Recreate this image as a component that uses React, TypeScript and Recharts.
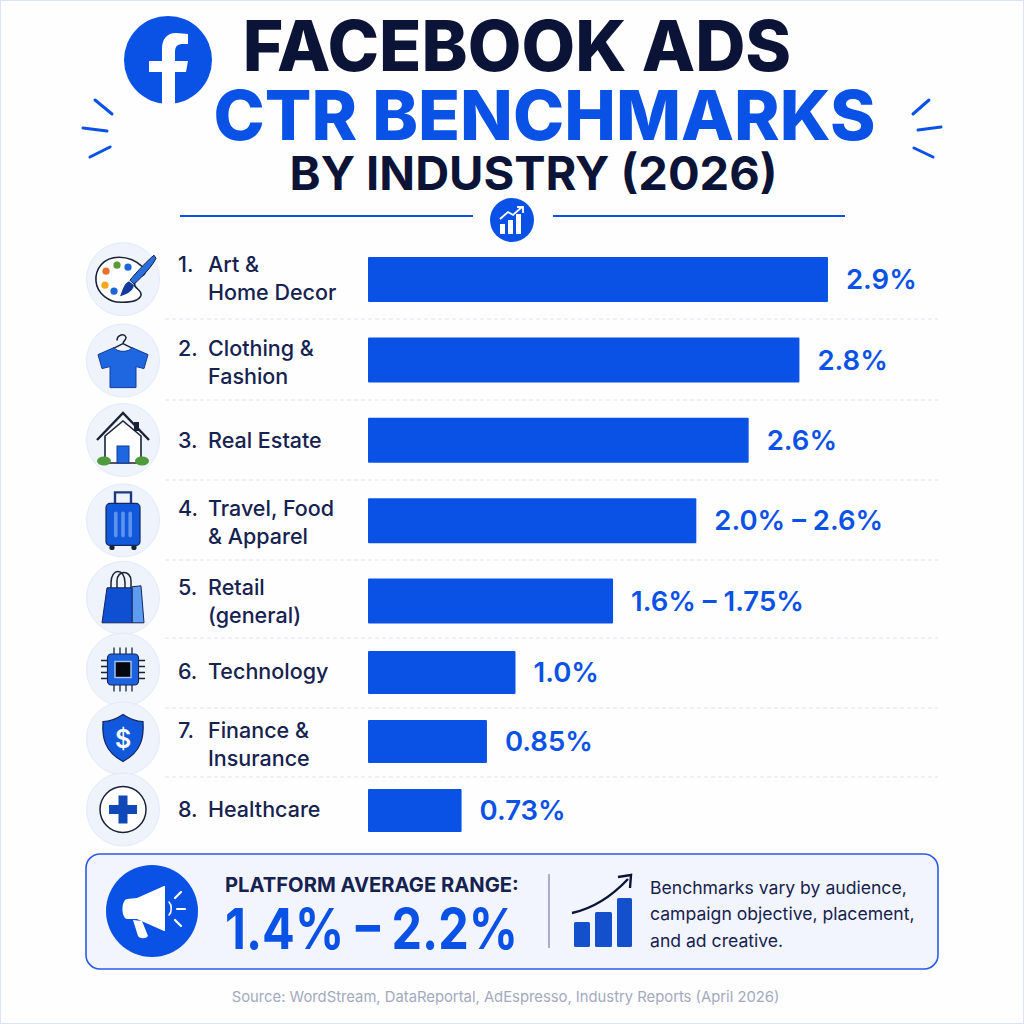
import { BarChart, Bar, XAxis, YAxis, LabelList } from 'recharts';

// Rows of the list. The picture has a tighter spacing from row 6 on, so they are two charts.
const categories = [
  ['Art &', 'Home Decor'],
  ['Clothing &', 'Fashion'],
  ['Real Estate'],
  ['Travel, Food', '& Apparel'],
  ['Retail', '(general)'],
  ['Technology'],
  ['Finance &', 'Insurance'],
  ['Healthcare'],
];
// bar lengths as drawn (they do not follow the printed labels exactly)
const barValues = [2.9, 2.72, 2.4, 2.07, 1.545, 0.93, 0.75, 0.59];
const valueLabels = ['2.9%', '2.8%', '2.6%', '2.0% – 2.6%', '1.6% – 1.75%', '1.0%', '0.85%', '0.73%'];

const tableData = categories.map((lines, i) => ({
  rank: i + 1,
  name: lines.join(' '),
  value: barValues[i],
  label: valueLabels[i],
}));

const BLUE = '#0a52e6';
const NAVY = '#0b1437';
const INK = '#16224f';
const FONT = 'Inter, sans-serif';

const IconPalette = () => (
  <g>
    <path d="M-4,-22 C-20,-22 -28,-10 -27,2 C-26,14 -14,24 0,23 C8,23 16,22 18,16 C19,12 14,10 12,7 C10,2 14,-2 18,-3 C22,-4 24,-8 20,-12 C14,-18 5,-22 -4,-22 Z" fill="#fff" stroke="#1a2238" strokeWidth="1.6" />
    <circle cx="-17" cy="-8" r="3.6" fill="#e8702a" />
    <circle cx="-6" cy="-14" r="3.6" fill="#5c9a35" />
    <circle cx="5" cy="-12" r="3.6" fill="#1c66dc" />
    <circle cx="-18" cy="6" r="3.6" fill="#f5a623" />
    <circle cx="-9" cy="12" r="3.6" fill="#1c66dc" />
    <path d="M31,-24 C26,-20 14,-8 7,1 L11,5 C20,-3 30,-14 33,-21 Z" fill="#2a6fe0" stroke="#1a2238" strokeWidth="1" />
    <path d="M6,2 C1,4 0,10 -3,17 C4,15 10,12 11,6 Z" fill="#123a9c" />
  </g>
);

const IconShirt = () => (
  <g>
    <path d="M-6,-20 C-6,-26 2,-28 3,-23 C3,-20 0,-20 0,-17 L10,-12 M0,-17 L-10,-12" fill="none" stroke="#1a2238" strokeWidth="1.5" />
    <path d="M-9,-13 L-25,-6 L-21,8 L-13,6 L-13,27 L13,27 L13,6 L21,8 L25,-6 L9,-13 C6,-8 -6,-8 -9,-13 Z" fill="#1f67e0" stroke="#123a9c" strokeWidth="1" />
  </g>
);

const IconHouse = () => (
  <g>
    <path d="M-18,-4 L-18,23 L18,23 L18,-4 L0,-19 Z" fill="#fff" stroke="#1a2238" strokeWidth="1.6" />
    <path d="M-26,0 L0,-27 L26,0" fill="none" stroke="#1a2238" strokeWidth="2.4" />
    <rect x="-6" y="6" width="12" height="17" fill="#1f67e0" stroke="#123a9c" />
    <rect x="11" y="-18" width="5" height="9" fill="#1a2238" />
    <ellipse cx="-19" cy="21" rx="7" ry="4.5" fill="#4f9a3d" />
    <ellipse cx="19" cy="21" rx="7" ry="4.5" fill="#4f9a3d" />
  </g>
);

const IconSuitcase = () => (
  <g>
    <path d="M-8,-17 V-28 H8 V-17" fill="none" stroke="#1d3a80" strokeWidth="2.4" />
    <circle cx="-11" cy="27" r="2.6" fill="#1a2238" />
    <circle cx="11" cy="27" r="2.6" fill="#1a2238" />
    <rect x="-17" y="-17" width="34" height="42" rx="4" fill="#1258dc" stroke="#14265a" strokeWidth="1.2" />
    <rect x="-9" y="-9" width="3.6" height="26" rx="1.8" fill="#5b93ee" />
    <rect x="-1.8" y="-9" width="3.6" height="26" rx="1.8" fill="#5b93ee" />
    <rect x="5.4" y="-9" width="3.6" height="26" rx="1.8" fill="#5b93ee" />
  </g>
);

const IconBag = () => (
  <g>
    <path d="M-12,-2 V-15 C-12,-30 2,-30 2,-15 V-2 M-6,-9 V-17 C-6,-28 8,-28 8,-17 V-8" fill="none" stroke="#1a2238" strokeWidth="1.5" />
    <path d="M9,-11 L18,-12 L21,25 L9,25 Z" fill="#5d9cf0" stroke="#14265a" strokeWidth="1" />
    <path d="M-16,-10 L9,-10 L9,25 L-21,25 Z" fill="#0f4fd2" stroke="#14265a" strokeWidth="1" />
  </g>
);

const IconChip = () => (
  <g>
    {[-9, -3, 3, 9].map((p) => (
      <g key={p} stroke="#1a2238" strokeWidth="1.3">
        <line x1={p} y1="-22" x2={p} y2="22" />
        <line x1="-22" y1={p} x2="22" y2={p} />
      </g>
    ))}
    <rect x="-15.5" y="-15.5" width="31" height="31" rx="4" fill="#1b62de" stroke="#14265a" strokeWidth="1.2" />
    <rect x="-8" y="-8" width="16" height="16" fill="#05070f" stroke="#a8c6f7" strokeWidth="1.4" />
  </g>
);

const IconShield = () => (
  <g>
    <path d="M0,-24 C6,-20 13,-17 20,-17 C21,-2 19,13 0,23 C-19,13 -21,-2 -20,-17 C-13,-17 -6,-20 0,-24 Z" fill="#1258dc" stroke="#14265a" strokeWidth="1.2" />
    <text y="9" textAnchor="middle" fontFamily={FONT} fontSize="25" fontWeight="600" fill="#fff">$</text>
  </g>
);

const IconCross = () => (
  <g>
    <circle r="23" fill="#fff" stroke="#1a2238" strokeWidth="1.5" />
    <path d="M-4.5,-14 H4.5 V-4.5 H14 V4.5 H4.5 V14 H-4.5 V4.5 H-14 V-4.5 H-4.5 Z" fill="#1048b8" />
  </g>
);

const rowIcons = [IconPalette, IconShirt, IconHouse, IconSuitcase, IconBag, IconChip, IconShield, IconCross];

// the picture's rows are not perfectly even, small per-row corrections for disc and text
const iconShift = [0, 1, 0, 0, -3, -3, -3, -1];
const textShift = [-0.5, 3, 0, 1.5, 0, -1, 2.5, -1];

// y-axis tick: icon disc, rank and one or two lines of the category
const RowTick = ({ x, y, payload }: any) => {
  const row = tableData.find((d) => d.name === payload.value)!;
  const lines = categories[row.rank - 1];
  const Icon = rowIcons[row.rank - 1];
  const lineY = lines.length === 2 ? [-14, 14] : [0];
  const dy = textShift[row.rank - 1];
  return (
    <g transform={`translate(${x},${y})`}>
      <g transform={`translate(-245,${iconShift[row.rank - 1]})`}>
        <circle r="36.5" fill="#eef3fc" stroke="#e3eafa" />
        <Icon />
      </g>
      <text x={-190} y={lineY[0] + dy} dy="0.36em" fontFamily={FONT} fontSize="21.5" fontWeight="500" fill={INK}>
        {row.rank}.
      </text>
      {lines.map((line, i) => (
        <text key={line} x={-160} y={lineY[i] + dy} dy="0.36em" fontFamily={FONT} fontSize="21.5" fontWeight="500" fill={INK}>
          {line}
        </text>
      ))}
    </g>
  );
};

const RowsChart = ({ rows, top, height, barSize, margin }: any) => (
  <div style={{ position: 'absolute', left: 85, top }}>
    <BarChart
      width={854}
      height={height}
      data={rows}
      layout="vertical"
      margin={margin}
      barCategoryGap={0}
    >
      <XAxis type="number" domain={[0, 3.6]} hide />
      <YAxis
        type="category"
        dataKey="name"
        width={283}
        axisLine={false}
        tickLine={false}
        tickMargin={0}
        tickSize={0}
        interval={0}
        tick={(props: any) => <RowTick {...props} />}
      />
      <Bar dataKey="value" fill={BLUE} barSize={barSize} radius={1} isAnimationActive={false}>
        <LabelList
          dataKey="label"
          position="right"
          offset={18}
          fill={BLUE}
          fontFamily={FONT}
          fontSize={27.5}
          fontWeight={600}
        />
      </Bar>
    </BarChart>
  </div>
);

const separators = [319, 400, 480, 560, 638, 708, 777];

const Decor = () => (
  <svg width="1024" height="1024" style={{ position: 'absolute', left: 0, top: 0 }}>
    <circle cx="168" cy="60" r="44" fill={BLUE} />
    <path d="M175,104 V72 H186 L188,61 H175 V52 C175,46 178,44 183,44 H188 V34 C185,34 180,33 176,33 C167,33 162,39 162,49 V61 H149 V72 H162 V104 Z" fill="#fff" />
    <g stroke={BLUE} strokeWidth="3" strokeLinecap="round">
      <line x1="95" y1="100" x2="112" y2="114" />
      <line x1="83" y1="128" x2="107" y2="131" />
      <line x1="90" y1="157" x2="110" y2="147" />
      <line x1="929" y1="100" x2="913" y2="114" />
      <line x1="941" y1="127" x2="918" y2="130" />
      <line x1="933" y1="157" x2="914" y2="148" />
    </g>
    <g fontFamily={FONT} fontWeight="800" textAnchor="middle">
      <text x="517" y="71" fontSize="69.5" fill={NAVY}>FACEBOOK ADS</text>
      <text x="544.5" y="140" fontSize="69" fill={BLUE}>CTR BENCHMARKS</text>
      <text x="533.5" y="190" fontSize="47" fontWeight="700" fill={NAVY}>BY INDUSTRY (2026)</text>
    </g>
    <line x1="180" y1="216" x2="473" y2="216" stroke={BLUE} strokeWidth="2" />
    <line x1="553" y1="216" x2="845" y2="216" stroke={BLUE} strokeWidth="2" />
    <circle cx="512" cy="220" r="22" fill={BLUE} />
    <g fill="#fff">
      <rect x="500" y="224" width="5" height="10" />
      <rect x="508" y="220" width="5" height="14" />
      <rect x="516" y="214" width="5" height="20" />
    </g>
    <path d="M500,219 L508,212 L513,215 L522,207 M517,207 H523 V213" fill="none" stroke="#fff" strokeWidth="1.8" />

    {separators.map((y) => (
      <line key={y} x1="165" y1={y} x2="938" y2={y} stroke="#dde2f1" strokeWidth="1.2" strokeDasharray="4 3" />
    ))}

    <rect x="86" y="854" width="852" height="115" rx="14" fill="#f2f5fd" stroke="#2a5ae8" strokeWidth="1.6" />
    <circle cx="152" cy="911" r="46" fill={BLUE} />
    <g fill="#fff">
      <path d="M127,899 L137,898 L164,886 L165,886 L165,931 L164,931 L137,919 L127,919 C121,918 121,900 127,899 Z" />
      <path d="M133,920 L142,921 L148,936 C146,939 140,939 138,936 Z" />
    </g>
    <g stroke="#fff" strokeWidth="2.2" strokeLinecap="round" fill="none">
      <path d="M169,902 C172,905 172,912 169,915" strokeWidth="1.6" />
      <line x1="175" y1="898" x2="181" y2="892" />
      <line x1="177" y1="909" x2="185" y2="909" />
      <line x1="175" y1="920" x2="181" y2="926" />
    </g>
    <text x="225" y="892" fontFamily={FONT} fontSize="20.2" fontWeight="700" fill={INK}>PLATFORM AVERAGE RANGE:</text>
    <text x="225" y="949" fontFamily={FONT} fontSize="57" fontWeight="700" fill={BLUE} textLength="293" lengthAdjust="spacingAndGlyphs">1.4% – 2.2%</text>
    <line x1="549" y1="874" x2="549" y2="948" stroke="#5a6a9a" strokeWidth="1" />
    <g fill="#1450cc">
      <rect x="574" y="922" width="16" height="25" rx="1.5" />
      <rect x="595" y="912" width="17" height="35" rx="1.5" />
      <rect x="617" y="898" width="15" height="49" rx="1.5" />
    </g>
    <path d="M572,913 C595,908 612,896 628,879" fill="none" stroke={NAVY} strokeWidth="2.4" />
    <path d="M618,877 L631,875 L630,888" fill="none" stroke={NAVY} strokeWidth="2.4" />
    <g fontFamily={FONT} fontSize="17.6" fontWeight="400" fill={INK}>
      <text x="650" y="894">Benchmarks vary by audience,</text>
      <text x="650" y="920">campaign objective, placement,</text>
      <text x="650" y="947">and ad creative.</text>
    </g>
    <text x="505.5" y="1002" textAnchor="middle" fontFamily={FONT} fontSize="14.8" fill="#a3a9c0">
      Source: WordStream, DataReportal, AdEspresso, Industry Reports (April 2026)
    </text>
  </svg>
);

export default function App() {
  return (
    <div
      style={{
        position: 'absolute',
        left: 0,
        top: 0,
        width: 1024,
        height: 1024,
        overflow: 'hidden',
        background: '#fefeff',
        boxShadow: 'inset 0 0 0 1px #dde3f2',
      }}
    >
      <Decor />
      <RowsChart
        rows={tableData.slice(0, 5)}
        top={239}
        height={402}
        barSize={45}
        margin={{ top: 0, right: 0, bottom: 0, left: 0 }}
      />
      <RowsChart
        rows={tableData.slice(5)}
        top={628}
        height={223}
        barSize={43}
        margin={{ top: 10, right: 0, bottom: 6, left: 0 }}
      />
    </div>
  );
}
